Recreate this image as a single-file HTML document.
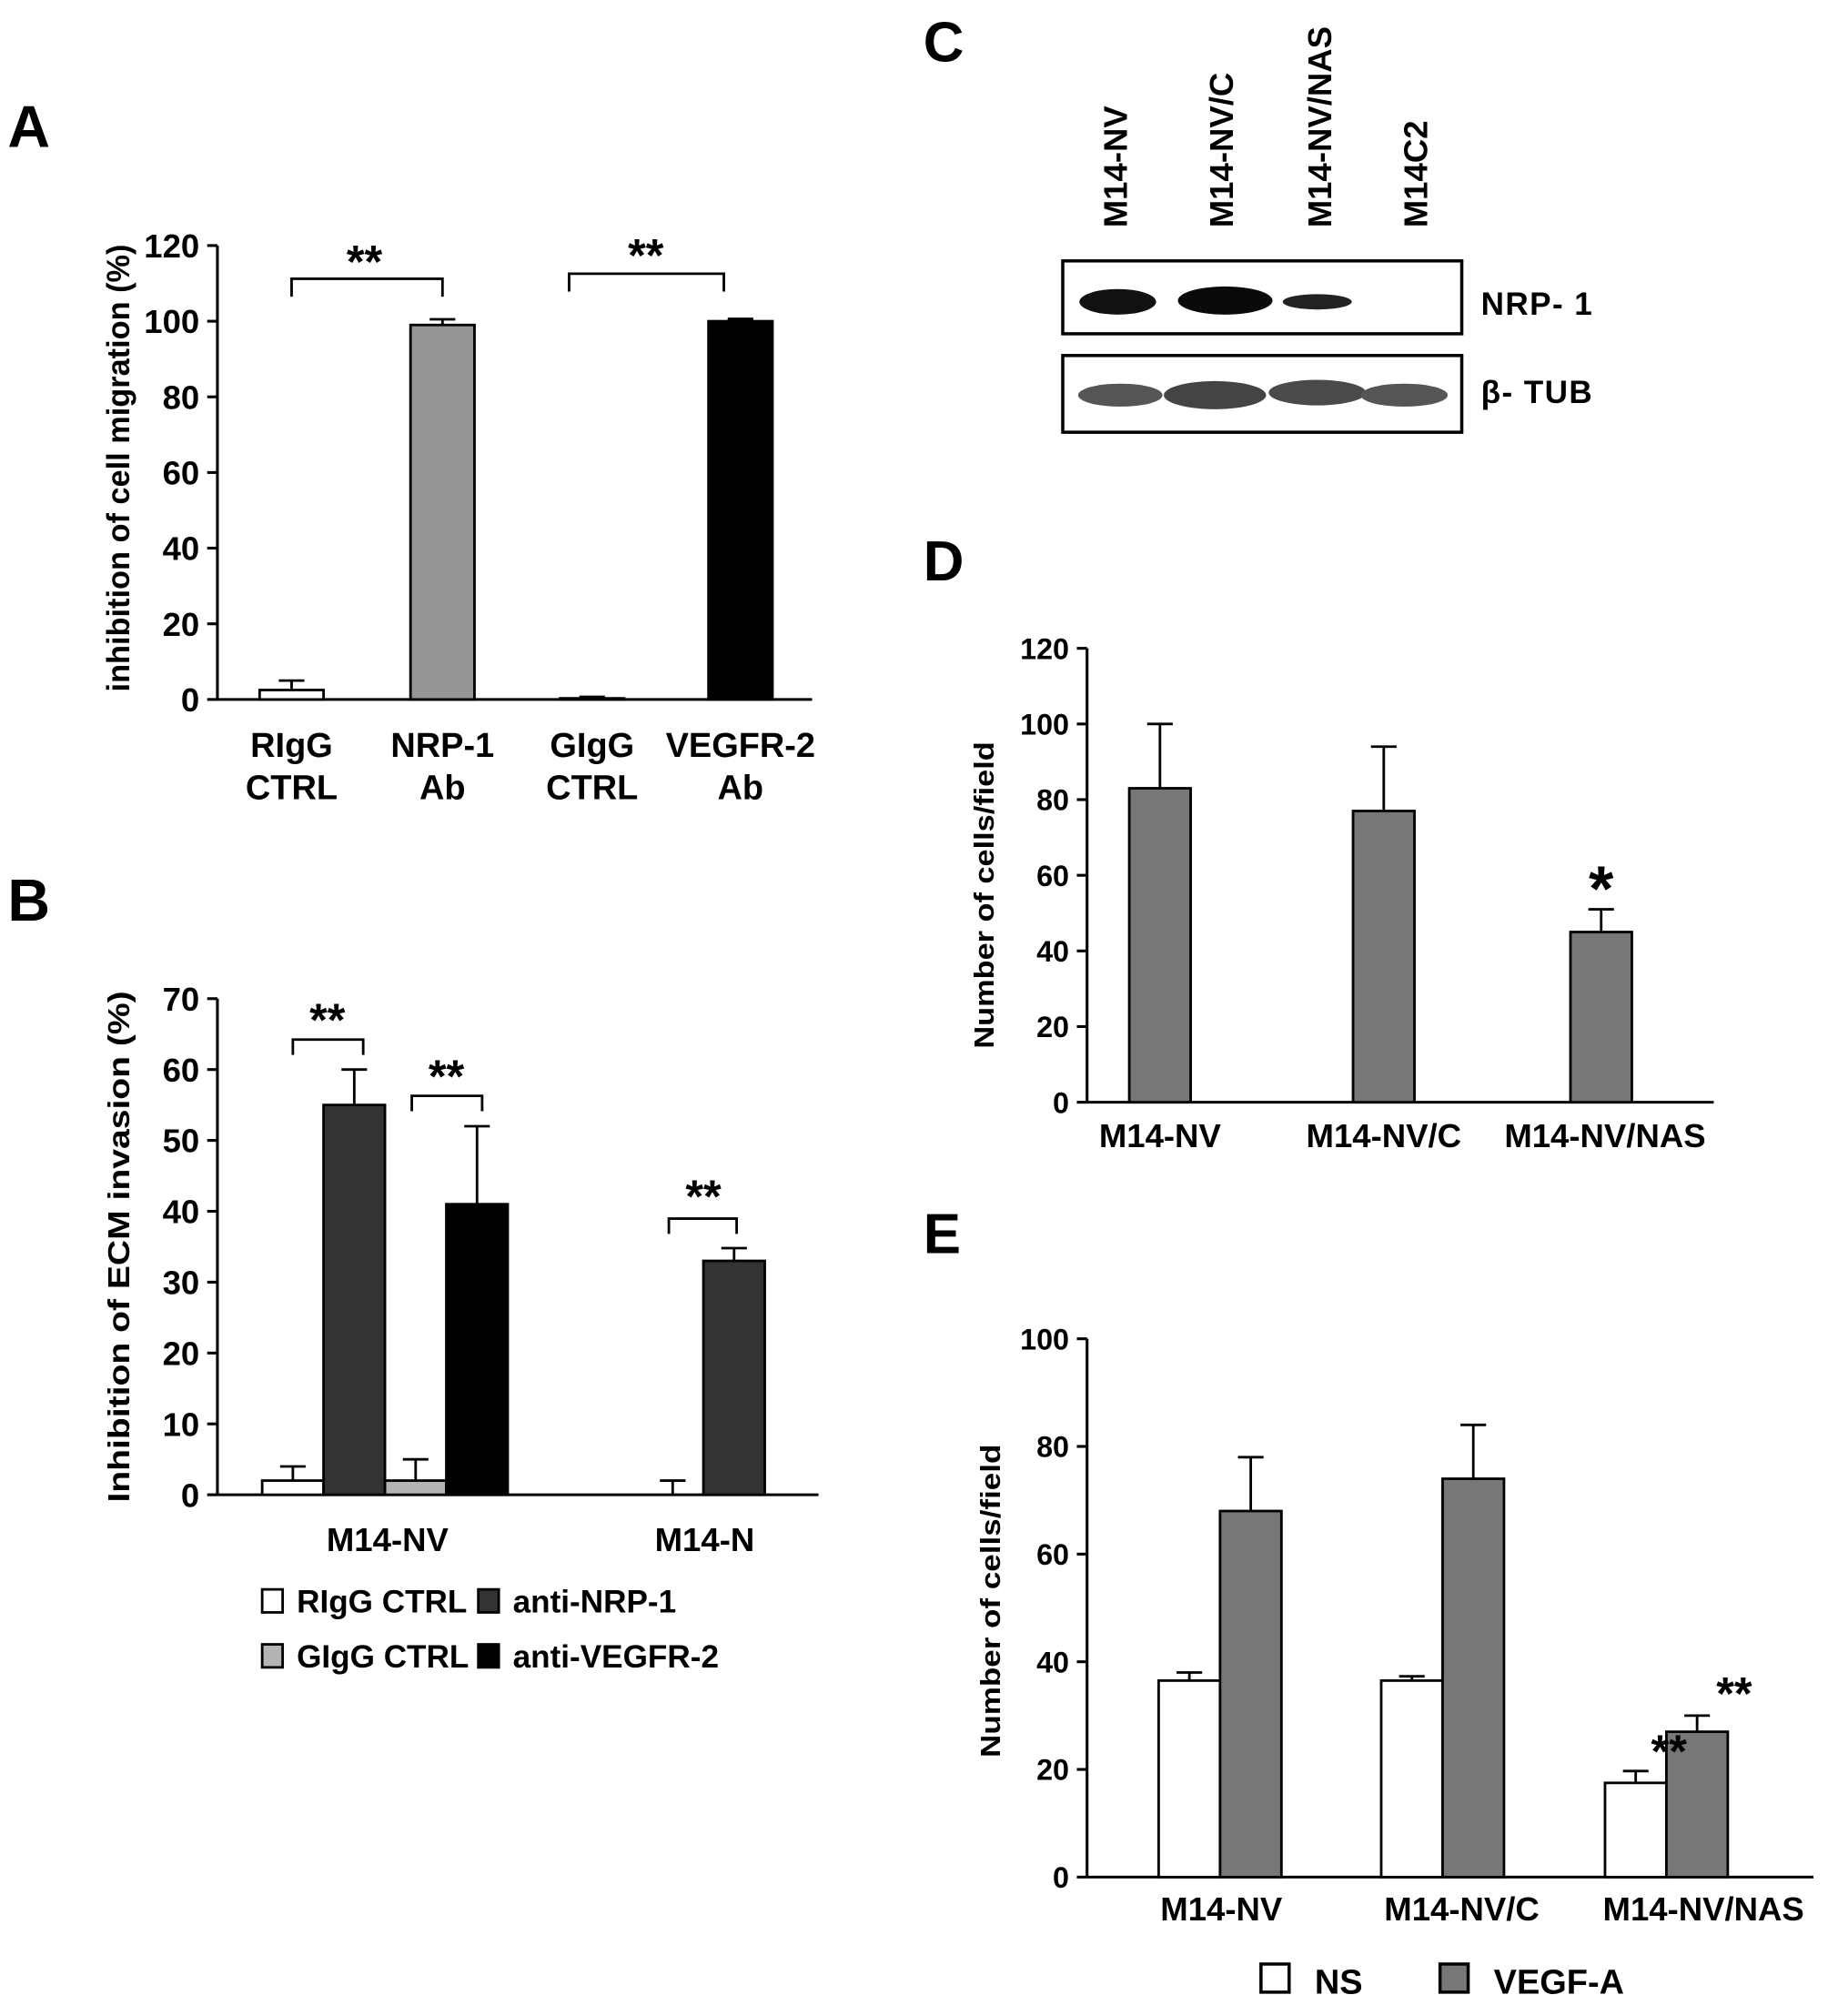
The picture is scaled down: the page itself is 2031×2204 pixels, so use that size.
<!DOCTYPE html>
<html><head><meta charset="utf-8">
<style>
html,body{margin:0;padding:0;background:#fff;}
svg{display:block;}
text{font-family:"Liberation Sans",sans-serif;font-weight:bold;fill:#000;}
</style></head>
<body>
<svg id="fig" width="2031" height="2204" viewBox="0 0 1445 1568" xmlns="http://www.w3.org/2000/svg">
<rect width="1445" height="1568" fill="#fff"/>
<text x="6" y="115" font-size="46">A</text>
<text x="6" y="720" font-size="46">B</text>
<text x="722" y="48" font-size="44">C</text>
<text x="722" y="454" font-size="44">D</text>
<text x="722" y="980" font-size="44">E</text>

<g>
  <text transform="translate(881,178) rotate(-90)" font-size="26">M14-NV</text>
  <text transform="translate(964,178) rotate(-90)" font-size="26">M14-NV/C</text>
  <text transform="translate(1041,178) rotate(-90)" font-size="26">M14-NV/NAS</text>
  <text transform="translate(1116,178) rotate(-90)" font-size="26">M14C2</text>
  <rect x="831" y="204" width="312" height="57" fill="#fff" stroke="#000" stroke-width="2.5"/>
  <ellipse cx="874" cy="236" rx="30" ry="10" fill="#111"/>
  <ellipse cx="958" cy="235" rx="37" ry="11" fill="#0a0a0a"/>
  <ellipse cx="1030" cy="236" rx="27" ry="6" fill="#222"/>
  <rect x="831" y="278" width="312" height="60" fill="#fff" stroke="#000" stroke-width="2.5"/>
  <ellipse cx="876" cy="309" rx="33" ry="9" fill="#555"/>
  <ellipse cx="950" cy="309" rx="40" ry="11" fill="#444"/>
  <ellipse cx="1030" cy="307" rx="38" ry="10" fill="#4a4a4a"/>
  <ellipse cx="1098" cy="309" rx="34" ry="9" fill="#555"/>
  <text x="1158" y="246" font-size="25" letter-spacing="1">NRP- 1</text>
  <text x="1158" y="315" font-size="25" letter-spacing="1">β- TUB</text>
</g>
<g id="charts"></g>
</svg>
<script>
// Panel A data
const aCats = ["RIgG CTRL","NRP-1 Ab","GIgG CTRL","VEGFR-2 Ab"];
const aValues = [2.5, 99, 0.3, 100];
const aErrors = [2.5, 1.5, 0.4, 0.6];
const aTicks = [0,20,40,60,80,100,120];
// Panel B data
const bGroups = ["M14-NV","M14-N"];
const bSeries = ["RIgG CTRL","anti-NRP-1","GIgG CTRL","anti-VEGFR-2"];
const bValuesNV = [2, 55, 2, 41];
const bErrorsNV = [2, 5, 3, 11];
const bValuesN = [0, 33];
const bErrorsN = [2, 1.8];
const bTicks = [0,10,20,30,40,50,60,70];
// Panel D data
const dCats = ["M14-NV","M14-NV/C","M14-NV/NAS"];
const dValues = [83, 77, 45];
const dErrors = [17, 17, 6];
const dTicks = [0,20,40,60,80,100,120];
// Panel E data
const eCats = ["M14-NV","M14-NV/C","M14-NV/NAS"];
const eNS = [36.5, 36.5, 17.5];
const eNSerr = [1.5, 0.8, 2.2];
const eVEGF = [68, 74, 27];
const eVEGFerr = [10, 10, 3];
const eTicks = [0,20,40,60,80,100];

const NS = "http://www.w3.org/2000/svg";
const root = document.getElementById('charts');
function mk(tag, attrs, parent){
  const e = document.createElementNS(NS, tag);
  for (const k in attrs) e.setAttribute(k, attrs[k]);
  (parent||root).appendChild(e);
  return e;
}
function txt(x,y,s,size,anchor){
  const t = mk('text',{x:x,y:y,'font-size':size,'text-anchor':anchor||'middle'});
  t.textContent = s;
  return t;
}
function axes(x0, y0, yTop, xEnd, ticks, maxV, fs, name){
  const ys = v => y0 - (v/maxV)*(y0-yTop);
  const ax = mk('line',{x1:x0,y1:y0,x2:x0,y2:yTop,stroke:'#000','stroke-width':2.2});
  
  
  const bx = mk('line',{x1:x0,y1:y0,x2:xEnd,y2:y0,stroke:'#000','stroke-width':2.2});
  
  
  ticks.forEach(v=>{
    const tk = mk('line',{x1:x0-8,y1:ys(v),x2:x0,y2:ys(v),stroke:'#000','stroke-width':2.2});
    
    
    const t = txt(x0-14, ys(v)+fs*0.36, String(v), fs, 'end');
    
    
  });
  return ys;
}
function bar(x, w, v, err, ys, fill, name){
  const y0 = ys(0), y = ys(v);
  if (err>0){
    const eTop = ys(v+err), cx = x+w/2;
    const l = mk('line',{x1:cx,y1:y,x2:cx,y2:eTop,stroke:'#000','stroke-width':2});
    
    
    const c = mk('line',{x1:cx-10,y1:eTop,x2:cx+10,y2:eTop,stroke:'#000','stroke-width':2});
    
    
  }
  if (v>0){
    const r = mk('rect',{x:x,y:y,width:w,height:y0-y,fill:fill,stroke:'#000','stroke-width':2});
    
    
  }
}
function bracket(x1,x2,y,drop,name){
  const p = mk('path',{d:`M${x1},${y+drop} V${y} H${x2} V${y+drop}`,fill:'none',stroke:'#000','stroke-width':2});
  
  
}
function ytitle(x,y,s,size,len,name){
  const t = mk('text',{transform:`translate(${x},${y}) rotate(-90)`,'font-size':size,'text-anchor':'middle',textLength:len,lengthAdjust:'spacingAndGlyphs'});
  t.textContent = s;
  return t;
}

// ---- Panel A ----
const aYs = axes(170, 547, 192, 635, aTicks, 120, 26, 'panel-a');
const aCenters = [228, 346, 463, 579];
const aFills = ['#fff','#969696','#fff','#000'];
aCats.forEach((c,i)=>{
  bar(aCenters[i]-25, 50, aValues[i], aErrors[i], aYs, aFills[i], 'panel-a-bar-'+i);
  if (aValues[i] < 1) {
    const l = mk('line',{x1:aCenters[i]-5,y1:aYs(0)-1,x2:aCenters[i]+5,y2:aYs(0)-1,stroke:'#000','stroke-width':2});
    
    
  }
  const parts = c.split(' ');
  const t1 = txt(aCenters[i], 592, parts[0], 27);
  
  
  const t2 = txt(aCenters[i], 625, parts[1], 27);
  
  
});
bracket(228, 346, 218, 14, 'panel-a-sig-bracket-1');
bracket(445, 566, 214, 14, 'panel-a-sig-bracket-2');
let s;
s = txt(285, 217, '**', 36);  
s = txt(505, 212, '**', 36);  
s = ytitle(101, 366, 'inhibition  of cell migration (%)', 25, 350);
 

// ---- Panel B ----
const bYs = axes(170, 1169, 781, 640, bTicks, 70, 26, 'panel-b');
const bFills = ['#fff','#333','#b4b4b4','#000'];
const bStartNV = 205, bW = 48;
bValuesNV.forEach((v,i)=>{
  bar(bStartNV + i*bW, bW, v, bErrorsNV[i], bYs, bFills[i], 'panel-b-bar-nv-'+i);
});
const bStartN = 502;
bValuesN.forEach((v,i)=>{
  bar(bStartN + i*bW, bW, v, bErrorsN[i], bYs, bFills[i], 'panel-b-bar-n-'+i);
});
bracket(229, 284, 813, 12, 'panel-b-sig-bracket-1');
bracket(322, 377, 857, 12, 'panel-b-sig-bracket-2');
bracket(523, 576, 953, 12, 'panel-b-sig-bracket-3');
s = txt(256, 810, '**', 36);  
s = txt(349, 854, '**', 36);  
s = txt(550, 948, '**', 36);  
s = txt(303, 1213, bGroups[0], 26);  
s = txt(551, 1213, bGroups[1], 26);  
const bLegX = [205, 374], bLegY = [1243, 1286];
bSeries.forEach((name,i)=>{
  const col = i%2, row = Math.floor(i/2);
  const r = mk('rect',{x:bLegX[col],y:bLegY[row],width:16,height:18,fill:bFills[i],stroke:'#000','stroke-width':2});
  
  
  const t = txt(bLegX[col]+27, bLegY[row]+18, name, 25, 'start');
  
  
});
s = ytitle(101, 975, 'Inhibition of ECM invasion (%)', 24, 400);
 

// ---- Panel D ----
const dYs = axes(850, 862, 507, 1340, dTicks, 120, 23, 'panel-d');
const dCenters = [907, 1082, 1252];
const dLabelX = [907, 1082, 1255];
dCats.forEach((c,i)=>{
  bar(dCenters[i]-24, 48, dValues[i], dErrors[i], dYs, '#777', 'panel-d-bar-'+i);
  const t = txt(dLabelX[i], 897, c, 26);
  
  
});
s = txt(1252, 712, '*', 50);  
s = ytitle(777, 700, 'Number of cells/field', 22, 240);
 

// ---- Panel E ----
const eYs = axes(850, 1468, 1047, 1418, eTicks, 100, 23, 'panel-e');
const eStarts = [906, 1080, 1255];
const eLabelX = [955, 1143, 1332];
eCats.forEach((c,i)=>{
  bar(eStarts[i], 48, eNS[i], eNSerr[i], eYs, '#fff', 'panel-e-bar-ns-'+i);
  bar(eStarts[i]+48, 48, eVEGF[i], eVEGFerr[i], eYs, '#777', 'panel-e-bar-vegf-'+i);
  const t = txt(eLabelX[i], 1502, c, 26);
  
  
});
s = txt(1305, 1382, '**', 36);  
s = txt(1356, 1337, '**', 36);  
s = mk('rect',{x:986,y:1536,width:22,height:22,fill:'#fff',stroke:'#000','stroke-width':2.5});
 
s = txt(1028, 1559, 'NS', 27, 'start');  
s = mk('rect',{x:1126,y:1536,width:22,height:22,fill:'#777',stroke:'#000','stroke-width':2.5});
 
s = txt(1168, 1559, 'VEGF-A', 27, 'start');  
s = ytitle(782, 1252, 'Number of cells/field', 22, 245);
 
</script>
</body></html>
